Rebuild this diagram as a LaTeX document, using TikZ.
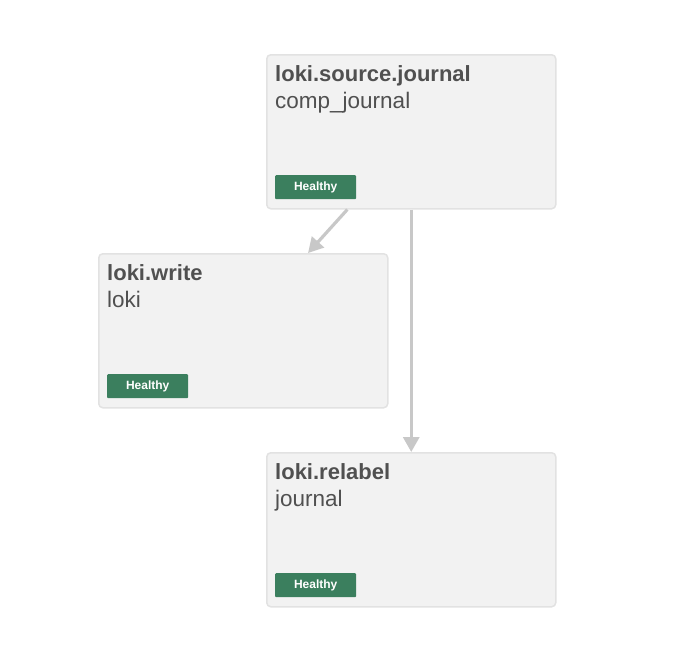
\documentclass[tikz,border=0pt]{standalone}
\usepackage{fontspec}
\setmainfont{Liberation Sans}
\usetikzlibrary{arrows.meta,calc}
\definecolor{boxfill}{HTML}{F2F2F2}
\definecolor{boxline}{HTML}{E2E2E2}
\definecolor{txt}{HTML}{505050}
\definecolor{badge}{HTML}{3B7F5E}
\definecolor{edgecol}{HTML}{C8C8C8}
\tikzset{
 comp/.style={draw=boxline, line width=1.5pt, fill=boxfill, rounded corners=4pt, minimum width=289pt, minimum height=154pt, anchor=north west, inner sep=0pt},
 ttl/.style={anchor=base west, inner sep=0pt, text=txt, font=\fontsize{22}{26}\selectfont\bfseries},
 sub/.style={anchor=base west, inner sep=0pt, text=txt, font=\fontsize{22.5}{26}\selectfont},
 badgebox/.style={fill=badge, rounded corners=1pt, minimum width=81pt, minimum height=24pt, anchor=north west, inner sep=0pt, text=white, font=\fontsize{12}{14}\selectfont\bfseries},
 edgeline/.style={draw=edgecol, line width=3.2pt, -{Triangle[length=15pt,width=16pt]}}
}
\begin{document}
\begin{tikzpicture}[x=1pt,y=-1pt]
\useasboundingbox (0,0) rectangle (678,646);
% boxes
\node[comp] (src) at (266,54) {};
\node[comp] (wr) at (98,253) {};
\node[comp] (rl) at (266,452) {};
% texts
\node[ttl] (srct) at ($(src.north west)+(9,27)$) {loki.source.journal};
\node[sub] (srcs) at ($(src.north west)+(9,54)$) {comp\_journal};
\node[badgebox] (srcb) at ($(src.north west)+(9,121)$) {Healthy};
\node[ttl] (wrt) at ($(wr.north west)+(9,27)$) {loki.write};
\node[sub] (wrs) at ($(wr.north west)+(9,54)$) {loki};
\node[badgebox] (wrb) at ($(wr.north west)+(9,121)$) {Healthy};
\node[ttl] (rlt) at ($(rl.north west)+(9,27)$) {loki.relabel};
\node[sub] (rls) at ($(rl.north west)+(9,54)$) {journal};
\node[badgebox] (rlb) at ($(rl.north west)+(9,121)$) {Healthy};
% edges
\coordinate (a1) at ($(src.south west)!0.28!(src.south east)$);
\coordinate (a2) at ($(wr.north west)!0.723!(wr.north east)$);
\draw[edgeline] (a1) -- (a2);
\draw[edgeline] (src.south) -- (rl.north);
\end{tikzpicture}
\end{document}
